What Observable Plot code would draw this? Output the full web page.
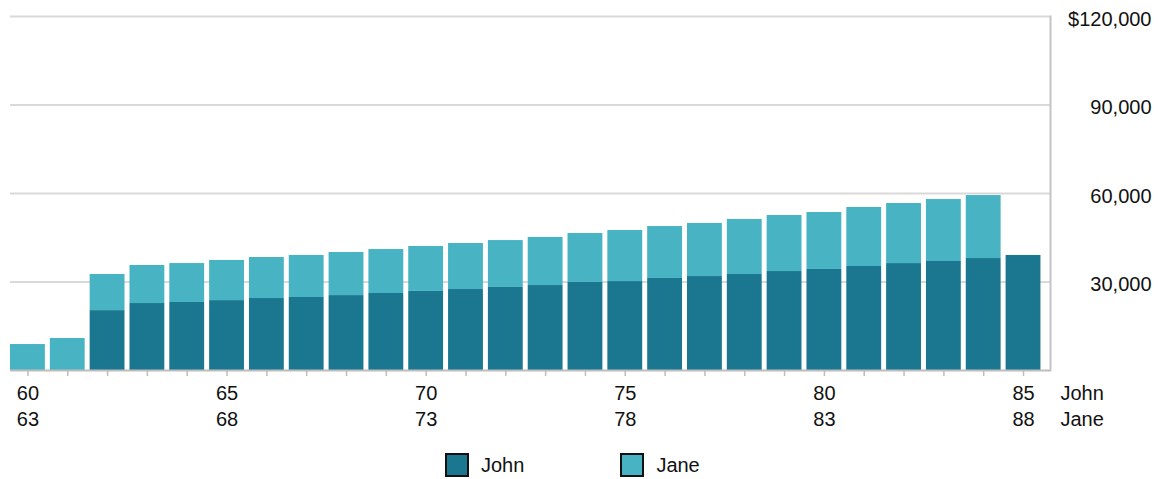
<!DOCTYPE html>
<html>
<head>
<meta charset="utf-8">
<script src="https://cdn.jsdelivr.net/npm/d3@7"></script>
<script src="https://cdn.jsdelivr.net/npm/@observablehq/plot@0.6"></script>
<style>
  html, body { margin: 0; padding: 0; background: #fff; }
  body { font-family: "Liberation Sans", Arial, sans-serif; color: #111; width: 1159px; }
  #legend { display: flex; align-items: center; padding-left: 445px; margin-top: 13px; font-size: 20px; }
  .item { display: flex; align-items: center; }
  .sw { width: 24px; height: 24px; box-sizing: border-box; border: 2px solid #111; margin-right: 12px; }
</style>
</head>
<body>
<div id="chart"></div>
<div id="legend"></div>
<script>
const series = ["John", "Jane"];
const seriesColors = ["#1a778f", "#47b3c3"];
const johnAges = [60,61,62,63,64,65,66,67,68,69,70,71,72,73,74,75,76,77,78,79,80,81,82,83,84,85];
const janeAges = [63,64,65,66,67,68,69,70,71,72,73,74,75,76,77,78,79,80,81,82,83,84,85,86,87,88];
const johnIncome = [0,0,20300,22700,23050,23700,24400,24750,25400,26100,26800,27450,28150,28800,29850,30150,31200,31850,32550,33550,34250,35250,36250,36950,37950,39000];
const janeIncome = [8800,10850,12250,12900,13200,13600,13900,14250,14600,14900,15250,15600,15900,16300,16600,17300,17600,18000,18650,19000,19300,20000,20350,21000,21350,0];
const xTickAges = [60,65,70,75,80,85];
const yTicks = [30000,60000,90000,120000];
const yTickLabels = ["30,000","60,000","90,000","$120,000"];
const rowLabels = ["John","Jane"];

const rows = johnAges.flatMap((a, i) => [
  {age: a, who: "John", v: johnIncome[i]},
  {age: a, who: "Jane", v: janeIncome[i]}
]);

const font = "Liberation Sans, Arial, sans-serif";
const ink = "#111";

const chart = Plot.plot({
  width: 1159,
  height: 440,
  marginTop: 16,
  marginBottom: 70,
  marginLeft: 10,
  marginRight: 109,
  style: {fontFamily: font, fontSize: "20px", color: ink, background: "#fff"},
  x: {type: "band", domain: johnAges, paddingInner: 0.125, paddingOuter: 0.12, align: 0, round: false, label: null},
  y: {domain: [0, 120000], label: null},
  color: {domain: series, range: seriesColors},
  marks: [
    Plot.gridY(yTicks, {stroke: "#d9d9d9", strokeOpacity: 1, strokeWidth: 2}),
    Plot.barY(rows, {x: "age", y: "v", fill: "who", order: series}),
    Plot.ruleY([0], {stroke: "#bdbdbd", strokeWidth: 2}),
    Plot.frame({anchor: "right", stroke: "#c4c4c4", strokeWidth: 2}),
    Plot.axisX({tickSize: 6, tickFormat: () => "", stroke: "#bdbdbd", strokeWidth: 1.5, label: null}),
    Plot.axisX({ticks: xTickAges, tickSize: 0, tickPadding: 15, fontSize: 20, fill: ink, label: null,
      tickFormat: d => String(d)}),
    Plot.axisX({ticks: xTickAges, tickSize: 0, tickPadding: 41, fontSize: 20, fill: ink, label: null,
      tickFormat: d => String(janeAges[johnAges.indexOf(d)])}),
    Plot.text([rowLabels[0]], {frameAnchor: "bottom-right", text: d => d, dx: 10, dy: 23,
      textAnchor: "start", lineAnchor: "middle", fontSize: 20, fill: ink}),
    Plot.text([rowLabels[1]], {frameAnchor: "bottom-right", text: d => d, dx: 10, dy: 49,
      textAnchor: "start", lineAnchor: "middle", fontSize: 20, fill: ink}),
    Plot.axisY({anchor: "right", ticks: yTicks, tickSize: 0, tickPadding: 101, textAnchor: "end",
      dy: 3, fontSize: 20, fill: ink, label: null,
      tickFormat: d => yTickLabels[yTicks.indexOf(d)]})
  ]
});
document.getElementById("chart").append(chart);

const legend = document.getElementById("legend");
series.forEach((s, i) => {
  const item = document.createElement("div");
  item.className = "item";
  if (i > 0) item.style.marginLeft = "96px";
  const sw = document.createElement("div");
  sw.className = "sw";
  sw.style.background = seriesColors[i];
  const t = document.createElement("span");
  t.textContent = s;
  item.append(sw, t);
  legend.append(item);
});
</script>
</body>
</html>
